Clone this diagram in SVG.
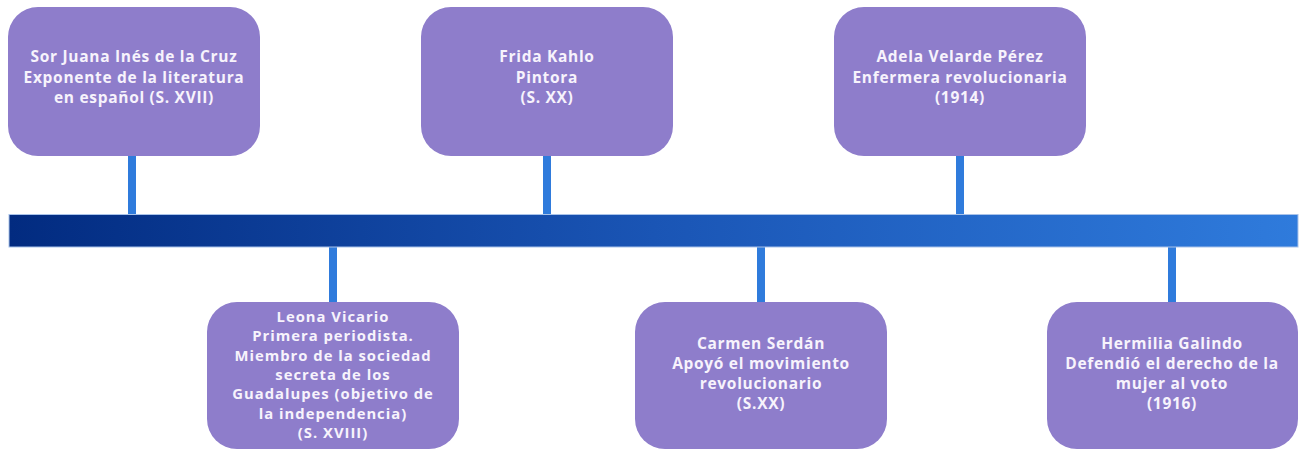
<svg xmlns="http://www.w3.org/2000/svg" width="1299" height="450" viewBox="0 0 1299 450">
<defs>
<linearGradient id="barGrad" x1="0" y1="0" x2="1" y2="0">
<stop offset="0" stop-color="#022b80"/>
<stop offset="0.5" stop-color="#1a55b5"/>
<stop offset="1" stop-color="#2f7bdc"/>
</linearGradient>
<style>
.box{fill:#8e7dcb;}
.conn{fill:#2f7bdc;}
.t{font-family:"Open Sans","Liberation Sans",sans-serif;font-weight:700;font-size:15.5px;letter-spacing:0.7px;fill:#f7f3fc;text-anchor:middle;}
.t.s{font-size:14.8px;letter-spacing:1px;}
</style>
</defs>
<g id="connectors">
<rect class="conn" x="128" y="150" width="8" height="68"/>
<rect class="conn" x="543" y="150" width="8" height="68"/>
<rect class="conn" x="956" y="150" width="8" height="68"/>
<rect class="conn" x="329" y="244" width="8" height="62"/>
<rect class="conn" x="757" y="244" width="8" height="62"/>
<rect class="conn" x="1168" y="244" width="8" height="62"/>
</g>
<g id="timeline">
<rect x="9" y="214.5" width="1289" height="32.5" fill="url(#barGrad)" stroke="#a9c3ea" stroke-width="1"/>
</g>
<g id="node-sor-juana">
<rect class="box" x="8" y="7" width="252" height="149" rx="30"/>
<text class="t" x="134" y="62">Sor Juana Inés de la Cruz</text>
<text class="t" x="134" y="82.5">Exponente de la literatura</text>
<text class="t" x="134" y="103">en español (S. XVII)</text>
</g>
<g id="node-frida">
<rect class="box" x="421" y="7" width="252" height="149" rx="30"/>
<text class="t" x="547" y="62">Frida Kahlo</text>
<text class="t" x="547" y="82.5">Pintora</text>
<text class="t" x="547" y="103">(S. XX)</text>
</g>
<g id="node-adela">
<rect class="box" x="834" y="7" width="252" height="149" rx="30"/>
<text class="t" x="960" y="62">Adela Velarde Pérez</text>
<text class="t" x="960" y="82.5">Enfermera revolucionaria</text>
<text class="t" x="960" y="103">(1914)</text>
</g>
<g id="node-leona">
<rect class="box" x="207" y="302" width="252" height="147" rx="30"/>
<text class="t s" x="333" y="321.7">Leona Vicario</text>
<text class="t s" x="333" y="341.1">Primera periodista.</text>
<text class="t s" x="333" y="360.5">Miembro de la sociedad</text>
<text class="t s" x="333" y="379.9">secreta de los</text>
<text class="t s" x="333" y="399.3">Guadalupes (objetivo de</text>
<text class="t s" x="333" y="418.7">la independencia)</text>
<text class="t s" x="333" y="438.1">(S. XVIII)</text>
</g>
<g id="node-carmen">
<rect class="box" x="635" y="302" width="252" height="147" rx="30"/>
<text class="t" x="761" y="349">Carmen Serdán</text>
<text class="t" x="761" y="369">Apoyó el movimiento</text>
<text class="t" x="761" y="389">revolucionario</text>
<text class="t" x="761" y="409">(S.XX)</text>
</g>
<g id="node-hermilia">
<rect class="box" x="1047" y="302" width="251" height="147" rx="30"/>
<text class="t" x="1172" y="349">Hermilia Galindo</text>
<text class="t" x="1172" y="369">Defendió el derecho de la</text>
<text class="t" x="1172" y="389">mujer al voto</text>
<text class="t" x="1172" y="409">(1916)</text>
</g>
</svg>
